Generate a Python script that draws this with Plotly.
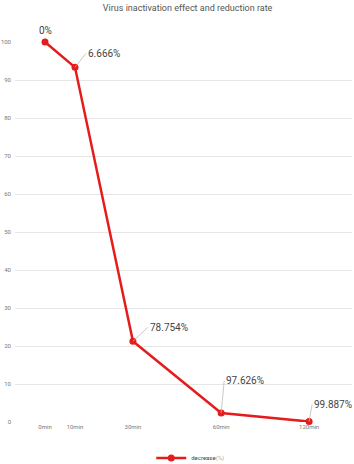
import plotly.graph_objects as go

categories = ["0min", "10min", "30min", "60min", "120min"]
x_pos = [0, 10, 29.3, 58.7, 88]
values = [100, 93.334, 21.246, 2.374, 0.113]
labels = ["0%", "6.666%", "78.754%", "97.626%", "99.887%"]
y_ticks = [0, 10, 20, 30, 40, 50, 60, 70, 80, 90, 100]

RED = "#e51c1c"
FONT = "Roboto, sans-serif"

fig = go.Figure()
fig.add_trace(go.Scatter(
    x=x_pos, y=values, mode="lines+markers",
    name="decrease<span style='color:#aaaaaa'>(%)</span>",
    line=dict(color=RED, width=2.5),
    marker=dict(color=RED, size=7),
    cliponaxis=False,
))

offsets = [(0, -16), (11, -14), (15, -14), (3, -32), (3, -17)]
for xv, yv, t, (ax, ay) in zip(x_pos, values, labels, offsets):
    if ax == 0:
        fig.add_annotation(x=xv, y=yv, text=t, showarrow=False, yshift=12,
                           font=dict(family=FONT, size=10, color="#444"))
    else:
        fig.add_annotation(x=xv, y=yv, text=t, showarrow=True, arrowhead=0,
                           arrowwidth=0.8, arrowcolor="#bbbbbb", ax=ax, ay=ay,
                           xanchor="left", yanchor="middle",
                           font=dict(family=FONT, size=10, color="#444"))

fig.update_layout(
    width=354, height=464,
    margin=dict(l=15, r=2, t=42, b=42, autoexpand=False),
    paper_bgcolor="white", plot_bgcolor="white",
    title=dict(text="Virus inactivation effect and reduction rate",
               x=0.53, xanchor="center", y=0.99, yanchor="top",
               font=dict(family=FONT, size=9, color="#555")),
    showlegend=True,
    legend=dict(orientation="h", x=0.52, xanchor="center", yref="container", y=0.013, yanchor="middle",
                font=dict(family=FONT, size=6, color="#444")),
    xaxis=dict(range=[-10, 102.3], tickmode="array", tickvals=x_pos, ticktext=categories,
               showgrid=False, zeroline=False, showline=False,
               tickfont=dict(family=FONT, size=6, color="#777")),
    yaxis=dict(range=[0, 100], tickmode="array", tickvals=y_ticks,
               showgrid=True, gridcolor="#e6e6e6", gridwidth=1, zeroline=False,
               ticklabelstandoff=3,
               tickfont=dict(family=FONT, size=6, color="#777")),
)

fig.write_html("out.html")
